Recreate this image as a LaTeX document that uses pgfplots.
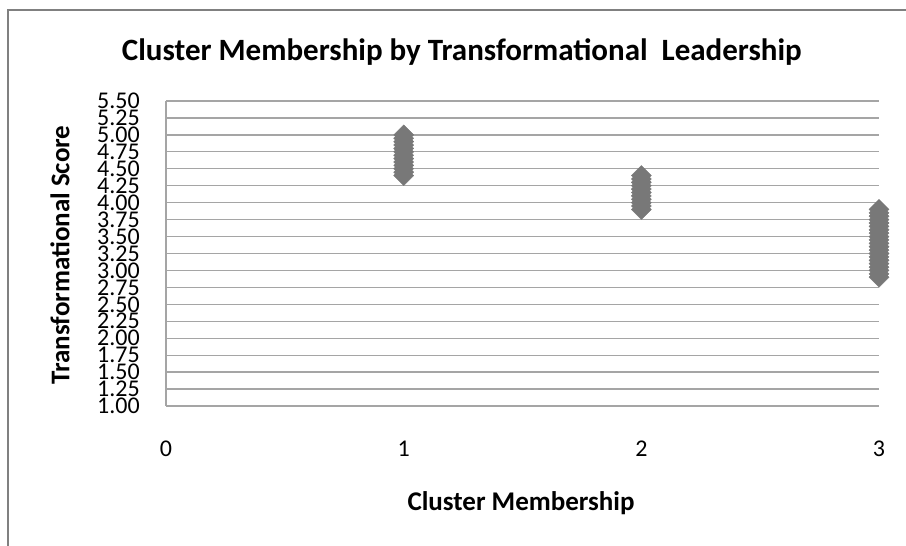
\documentclass[border=0pt]{standalone}
\usepackage{fontspec}
\setmainfont{Carlito}
\usepackage{pgfplots}
\pgfplotsset{compat=1.18}
\definecolor{markgray}{RGB}{120,120,120}
\definecolor{gridgray}{RGB}{165,165,165}
\definecolor{framegray}{RGB}{128,128,128}
\begin{document}
\begin{tikzpicture}
\useasboundingbox (0,0) rectangle (906bp,546bp);
\draw[framegray,line width=2.5bp] (8bp,0) -- (8bp,536bp) -- (906bp,536bp);
\begin{axis}[
  at={(166bp,140bp)}, anchor=south west,
  scale only axis, width=713bp, height=305bp,
  xmin=0, xmax=3, ymin=1, ymax=5.5,
  xtick={0,1,2,3},
  ytick={1,1.25,...,5.5},
  /pgf/number format/assume math mode=true,
  yticklabel style={/pgf/number format/fixed, /pgf/number format/fixed zerofill, /pgf/number format/precision=2, anchor=east, inner sep=0pt, xshift=-26bp, font=\fontsize{24bp}{24bp}\selectfont},
  xticklabel style={anchor=center, inner sep=0pt, yshift=-43bp, font=\fontsize{24bp}{24bp}\selectfont},
  major tick length=0pt,
  axis x line*=bottom,
  x axis line style={draw=none},
  axis y line*=left,
  y axis line style={gridgray, line width=1.3bp, -},
  ymajorgrids, grid style={gridgray, line width=1.3bp},
  clip=false,
  title={\bfseries Cluster Membership by Transformational\ \ Leadership},
  title style={at={(0.415,1.14)}, anchor=center, font=\fontsize{31bp}{31bp}\selectfont},
  xlabel={\bfseries Cluster Membership},
  xlabel style={at={(0.498,-0.318)}, anchor=center, font=\fontsize{27bp}{27bp}\selectfont},
  ylabel={\bfseries Transformational Score},
  ylabel style={at={(-0.1487,0.495)}, anchor=center, rotate=0, font=\fontsize{27bp}{27bp}\selectfont},
]
\addplot[only marks, mark=square*, mark size=7.07bp, mark options={rotate=45, fill=markgray, draw=markgray}]
coordinates {
(1,4.40) (1,4.45) (1,4.50) (1,4.55) (1,4.60) (1,4.65) (1,4.70) (1,4.75) (1,4.80) (1,4.85) (1,4.90) (1,4.95) (1,5.00)
(2,3.90) (2,3.95) (2,4.00) (2,4.05) (2,4.10) (2,4.15) (2,4.20) (2,4.25) (2,4.30) (2,4.35) (2,4.40)
(3,2.90) (3,2.95) (3,3.00) (3,3.05) (3,3.10) (3,3.15) (3,3.20) (3,3.25) (3,3.30) (3,3.35) (3,3.40) (3,3.45) (3,3.50) (3,3.55) (3,3.60) (3,3.65) (3,3.70) (3,3.75) (3,3.80) (3,3.85) (3,3.90)
};
\end{axis}
\end{tikzpicture}
\end{document}
